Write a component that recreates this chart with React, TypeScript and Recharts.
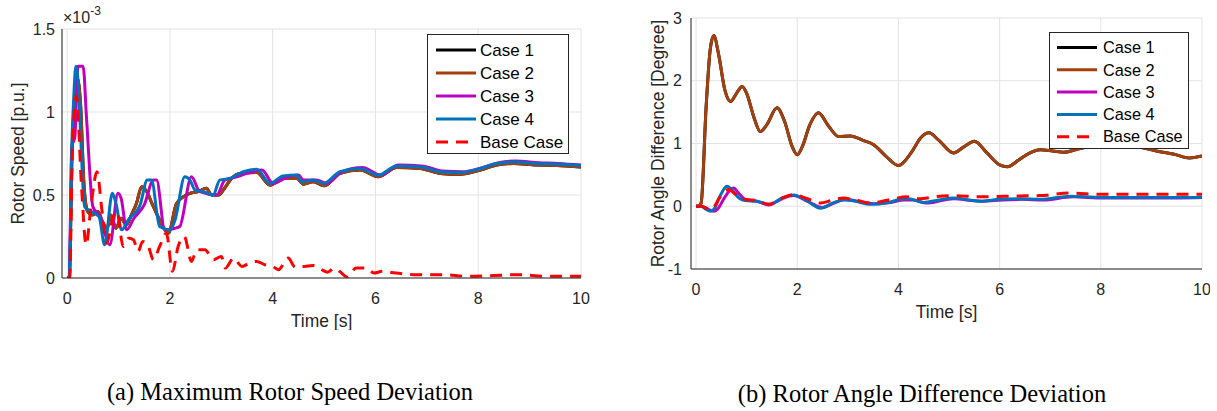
import React from 'react';
import { LineChart, Line, XAxis, YAxis, CartesianGrid, Legend, Customized } from 'recharts';

const timeTicks = [0, 2, 4, 6, 8, 10];
const speedTicks = [0, 0.5, 1, 1.5];
const angleTicks = [-1, 0, 1, 2, 3];

const seriesNames = ['Case 1', 'Case 2', 'Case 3', 'Case 4', 'Base Case'];
const seriesColors = ['#000000', '#A2400F', '#C000C0', '#0072BD', '#FF0000'];

// (a) maximum rotor speed deviation, in 1e-3 p.u.
const speedCase1T = [0, 0.04, 0.1, 0.15, 0.2, 0.26, 0.33, 0.4, 0.5, 0.6, 0.7, 0.78, 0.85, 0.95, 1.05, 1.15, 1.25, 1.35, 1.45, 1.55, 1.65, 1.8, 1.97, 2.13, 2.39, 2.55, 2.71, 2.81, 2.95, 3.04, 3.2, 3.36, 3.69, 3.95, 4.2, 4.47, 4.6, 4.79, 5.0, 5.31, 5.7, 6.06, 6.41, 6.87, 7.26, 7.65, 8.04, 8.36, 8.69, 9.14, 9.53, 10];
const speedCase1V = [0, 0, 0.8, 1.0, 1.2, 1.05, 0.55, 0.4, 0.38, 0.4, 0.33, 0.3, 0.38, 0.3, 0.36, 0.32, 0.38, 0.45, 0.55, 0.52, 0.45, 0.35, 0.27, 0.45, 0.51, 0.52, 0.54, 0.5, 0.5, 0.53, 0.6, 0.63, 0.635, 0.56, 0.6, 0.6, 0.565, 0.58, 0.555, 0.63, 0.65, 0.61, 0.665, 0.66, 0.63, 0.625, 0.65, 0.68, 0.69, 0.68, 0.678, 0.668];
const speedCase2T = speedCase1T;
const speedCase2V = [0, 0, 0.8, 1.0, 1.2, 1.05, 0.55, 0.4, 0.38, 0.4, 0.33, 0.3, 0.38, 0.3, 0.36, 0.32, 0.38, 0.45, 0.55, 0.52, 0.45, 0.35, 0.27, 0.45, 0.51, 0.52, 0.54, 0.5, 0.5, 0.53, 0.6, 0.63, 0.635, 0.56, 0.6, 0.6, 0.565, 0.58, 0.555, 0.63, 0.65, 0.61, 0.665, 0.66, 0.63, 0.625, 0.65, 0.68, 0.69, 0.68, 0.678, 0.668];
const speedCase3T = [0, 0.04, 0.09, 0.15, 0.21, 0.31, 0.38, 0.5, 0.64, 0.83, 0.99, 1.05, 1.16, 1.3, 1.5, 1.68, 1.74, 1.9, 2.1, 2.19, 2.42, 2.58, 2.91, 3.07, 3.3, 3.5, 3.79, 4.01, 4.3, 4.5, 4.6, 4.85, 5.05, 5.35, 5.75, 6.1, 6.45, 6.9, 7.3, 7.7, 8.08, 8.4, 8.72, 9.18, 9.56, 10];
const speedCase3V = [0, 0, 0.79, 0.85, 1.275, 1.275, 0.95, 0.43, 0.37, 0.2, 0.51, 0.48, 0.29, 0.36, 0.44, 0.59, 0.59, 0.29, 0.3, 0.31, 0.61, 0.52, 0.5, 0.59, 0.61, 0.63, 0.65, 0.57, 0.61, 0.62, 0.59, 0.59, 0.57, 0.64, 0.665, 0.62, 0.68, 0.675, 0.645, 0.64, 0.665, 0.695, 0.705, 0.695, 0.69, 0.68];
const speedCase4T = [0, 0.04, 0.09, 0.13, 0.17, 0.21, 0.25, 0.34, 0.47, 0.62, 0.73, 0.88, 0.95, 1.06, 1.19, 1.42, 1.56, 1.64, 1.8, 2.0, 2.1, 2.29, 2.39, 2.49, 2.65, 2.84, 2.97, 3.17, 3.43, 3.69, 3.95, 4.2, 4.47, 4.56, 4.79, 4.99, 5.31, 5.7, 6.06, 6.41, 6.87, 7.26, 7.65, 8.04, 8.36, 8.69, 9.14, 9.53, 10];
const speedCase4V = [0, 0, 0.79, 1.1, 1.275, 1.2, 0.95, 0.43, 0.4, 0.37, 0.2, 0.51, 0.45, 0.29, 0.35, 0.44, 0.59, 0.59, 0.31, 0.29, 0.35, 0.61, 0.59, 0.53, 0.52, 0.5, 0.59, 0.6, 0.64, 0.655, 0.57, 0.615, 0.62, 0.58, 0.59, 0.57, 0.64, 0.66, 0.62, 0.675, 0.67, 0.64, 0.635, 0.66, 0.69, 0.7, 0.69, 0.687, 0.677];
const speedBaseT = [0, 0.05, 0.1, 0.18, 0.28, 0.37, 0.47, 0.58, 0.68, 0.77, 0.9, 0.97, 1.09, 1.2, 1.29, 1.38, 1.47, 1.58, 1.68, 1.8, 1.93, 2.05, 2.16, 2.28, 2.42, 2.52, 2.68, 2.85, 3.0, 3.08, 3.24, 3.4, 3.55, 3.69, 3.85, 4.0, 4.11, 4.3, 4.44, 4.63, 4.79, 4.95, 5.07, 5.2, 5.3, 5.46, 5.62, 5.84, 5.97, 6.13, 6.39, 6.8, 7.3, 7.8, 8.3, 8.8, 9.3, 10];
const speedBaseV = [0, 0, 0.75, 1.1, 0.55, 0.2, 0.45, 0.64, 0.4, 0.21, 0.37, 0.4, 0.19, 0.24, 0.23, 0.16, 0.22, 0.19, 0.11, 0.19, 0.27, 0.04, 0.19, 0.25, 0.1, 0.17, 0.17, 0.11, 0.13, 0.06, 0.12, 0.07, 0.09, 0.1, 0.08, 0.07, 0.05, 0.12, 0.065, 0.07, 0.075, 0.05, 0.035, 0.06, 0.04, 0.005, 0.06, 0.06, 0.03, 0.04, 0.03, 0.02, 0.02, 0.01, 0.015, 0.02, 0.01, 0.01];

// (b) rotor angle difference deviation, in degrees
const angleCase1T = [0, 0.05, 0.1, 0.2, 0.28, 0.35, 0.45, 0.57, 0.68, 0.8, 0.91, 1.0, 1.15, 1.27, 1.4, 1.6, 1.75, 1.9, 2.0, 2.1, 2.25, 2.42, 2.6, 2.82, 3.05, 3.3, 3.51, 3.75, 4.0, 4.25, 4.45, 4.6, 4.8, 5.09, 5.3, 5.5, 5.75, 6.0, 6.15, 6.4, 6.6, 6.8, 7.05, 7.27, 7.5, 7.75, 8.1, 8.4, 8.7, 9.1, 9.45, 9.75, 10];
const angleCase1V = [0, 0, 0.05, 1.6, 2.5, 2.72, 2.4, 1.85, 1.67, 1.8, 1.91, 1.8, 1.4, 1.19, 1.3, 1.57, 1.35, 0.95, 0.82, 0.95, 1.3, 1.49, 1.3, 1.11, 1.12, 1.05, 0.98, 0.8, 0.65, 0.85, 1.1, 1.17, 1.05, 0.85, 0.95, 1.035, 0.85, 0.66, 0.63, 0.75, 0.85, 0.9, 0.88, 0.86, 0.9, 0.95, 1.0, 0.99, 0.955, 0.88, 0.83, 0.77, 0.8];
const angleCase2T = angleCase1T;
const angleCase2V = [0, 0, 0.05, 1.6, 2.5, 2.72, 2.4, 1.85, 1.67, 1.8, 1.91, 1.8, 1.4, 1.19, 1.3, 1.57, 1.35, 0.95, 0.82, 0.95, 1.3, 1.49, 1.3, 1.11, 1.12, 1.05, 0.98, 0.8, 0.65, 0.85, 1.1, 1.17, 1.05, 0.85, 0.95, 1.035, 0.85, 0.66, 0.63, 0.75, 0.85, 0.9, 0.88, 0.86, 0.9, 0.95, 1.0, 0.99, 0.955, 0.88, 0.83, 0.77, 0.8];
const angleCase3T = [0, 0.1, 0.2, 0.35, 0.45, 0.55, 0.74, 0.85, 0.97, 1.2, 1.44, 1.7, 1.93, 2.2, 2.5, 2.75, 2.95, 3.2, 3.5, 3.85, 4.1, 4.3, 4.55, 4.85, 5.1, 5.45, 5.65, 6.05, 6.45, 6.85, 7.45, 8.05, 9.05, 10];
const angleCase3V = [0, 0, -0.03, -0.08, -0.02, 0.12, 0.29, 0.2, 0.11, 0.08, 0.02, 0.12, 0.17, 0.08, -0.02, 0.06, 0.11, 0.08, 0.04, 0.06, 0.1, 0.1, 0.05, 0.09, 0.12, 0.09, 0.08, 0.1, 0.11, 0.1, 0.15, 0.13, 0.13, 0.14];
const angleCase4T = [0, 0.1, 0.2, 0.28, 0.36, 0.45, 0.61, 0.72, 0.85, 0.97, 1.2, 1.44, 1.7, 1.93, 2.2, 2.46, 2.7, 2.92, 3.15, 3.45, 3.8, 4.04, 4.2, 4.5, 4.8, 5.09, 5.4, 5.6, 6.0, 6.4, 6.8, 7.4, 8.0, 9.0, 10];
const angleCase4V = [0, 0, -0.05, -0.08, -0.04, 0.12, 0.32, 0.25, 0.13, 0.09, 0.08, 0.03, 0.13, 0.18, 0.08, -0.03, 0.05, 0.1, 0.08, 0.03, 0.06, 0.11, 0.12, 0.06, 0.1, 0.13, 0.1, 0.08, 0.11, 0.12, 0.11, 0.16, 0.14, 0.14, 0.14];
const angleBaseT = [0, 0.1, 0.2, 0.28, 0.35, 0.45, 0.55, 0.64, 0.75, 0.85, 0.97, 1.2, 1.44, 1.7, 1.93, 2.2, 2.46, 2.7, 2.9, 3.15, 3.45, 3.8, 4.17, 4.43, 4.7, 5.09, 5.6, 6.1, 6.8, 7.4, 8.0, 9.0, 10];
const angleBaseV = [0, 0, -0.03, -0.05, -0.02, 0.12, 0.23, 0.265, 0.21, 0.14, 0.11, 0.09, 0.03, 0.13, 0.185, 0.12, 0.05, 0.1, 0.13, 0.1, 0.05, 0.1, 0.15, 0.12, 0.15, 0.17, 0.15, 0.16, 0.17, 0.21, 0.19, 0.19, 0.19];

const toPoints = (t: number[], v: number[]) => t.map((x, i) => ({ t: x, v: v[i] }));

const speedSeries = [
  toPoints(speedCase1T, speedCase1V),
  toPoints(speedCase2T, speedCase2V),
  toPoints(speedCase3T, speedCase3V),
  toPoints(speedCase4T, speedCase4V),
  toPoints(speedBaseT, speedBaseV),
];
const angleSeries = [
  toPoints(angleCase1T, angleCase1V),
  toPoints(angleCase2T, angleCase2V),
  toPoints(angleCase3T, angleCase3V),
  toPoints(angleCase4T, angleCase4V),
  toPoints(angleBaseT, angleBaseV),
];

const axisColor = '#262626';
const sans = '"Liberation Sans", Arial, Helvetica, sans-serif';
const serif = '"Liberation Serif", "Times New Roman", serif';

const LegendBox = ({ width, height, rowTop, rowGap, lineX, textX, fontSize }: any) => (
  <div style={{ width, height, boxSizing: 'border-box', border: `1px solid ${axisColor}`, background: '#fff' }}>
    <svg width={width - 2} height={height - 2} style={{ display: 'block' }}>
      {seriesNames.map((name, i) => {
        const y = rowTop + i * rowGap;
        return (
          <g key={name}>
            <line x1={lineX} x2={lineX + 40} y1={y} y2={y} stroke={seriesColors[i]} strokeWidth={3}
              strokeDasharray={i === 4 ? '12 8' : undefined} />
            <text x={textX} y={y} dy="0.35em" fontSize={fontSize} fontFamily={sans} fill="#000">{name}</text>
          </g>
        );
      })}
    </svg>
  </div>
);

const Panel = ({ width, height, margin, yWidth, xHeight, yDomain, yTicks, yLabel, yLabelOffset, yTickMargin,
  series, curve, legend, extra }: any) => (
  <LineChart width={width} height={height} margin={margin}>
    <CartesianGrid stroke="#e3e3e3" strokeWidth={1} />
    {/* inward tick marks on all four sides, MATLAB style */}
    <XAxis xAxisId="bticks" orientation="bottom" type="number" domain={[-0.1, 10]} ticks={timeTicks} height={0}
      mirror axisLine={false} tick={false} tickSize={5} tickLine={{ stroke: axisColor }} />
    <XAxis dataKey="t" type="number" domain={[-0.1, 10]} ticks={timeTicks} allowDataOverflow
      height={xHeight} stroke={axisColor} tickLine={false} tickSize={0} tickMargin={15}
      tick={{ fill: axisColor, fontSize: 16, fontFamily: sans }}
      label={{ value: 'Time [s]', position: 'insideTop', offset: 37, fill: axisColor, fontSize: 17.5, fontFamily: sans }} />
    <XAxis xAxisId="top" orientation="top" type="number" domain={[-0.1, 10]} ticks={timeTicks} height={0}
      mirror stroke={axisColor} tick={false} tickSize={5} tickLine={{ stroke: axisColor }} />
    <YAxis yAxisId="lticks" orientation="left" type="number" domain={yDomain} ticks={yTicks} width={0}
      mirror axisLine={false} tick={false} tickSize={5} tickLine={{ stroke: axisColor }} />
    <YAxis type="number" domain={yDomain} ticks={yTicks} width={yWidth} allowDataOverflow
      stroke={axisColor} tickLine={false} tickSize={0} tickMargin={yTickMargin}
      tick={{ fill: axisColor, fontSize: 16, fontFamily: sans }}
      label={{ value: yLabel, angle: -90, position: 'insideLeft', offset: yLabelOffset,
        style: { textAnchor: 'middle', fill: axisColor, fontSize: 17.5, fontFamily: sans } }} />
    <YAxis yAxisId="right" orientation="right" type="number" domain={yDomain} ticks={yTicks} width={0}
      mirror stroke={axisColor} tick={false} tickSize={5} tickLine={{ stroke: axisColor }} />
    {series.map((pts: any[], i: number) => (
      <Line key={seriesNames[i]} data={pts} dataKey="v" name={seriesNames[i]} type={curve}
        stroke={seriesColors[i]} strokeWidth={3} dot={false} activeDot={false}
        strokeDasharray={i === 4 ? '12 8' : undefined} isAnimationActive={false} />
    ))}
    <Legend layout="horizontal" verticalAlign="middle" align="center"
      wrapperStyle={{ position: 'absolute', left: legend.left, top: legend.top, width: legend.width, height: legend.height }}
      content={() => <LegendBox {...legend} />} />
    {extra}
  </LineChart>
);

export default function App() {
  return (
    <div style={{ position: 'absolute', left: 0, top: 0, width: 1217, height: 411, background: '#fff' }}>
      <div style={{ position: 'absolute', left: 0, top: 0 }}>
        <Panel width={600} height={330} margin={{ top: 29, right: 19, left: 0, bottom: 0 }} yWidth={62} xHeight={52}
          yDomain={[0, 1.5]} yTicks={speedTicks} yLabel="Rotor Speed [p.u.]" yLabelOffset={18} yTickMargin={7}
          series={speedSeries} curve="monotone"
          legend={{ left: 427, top: 34, width: 142, height: 120, rowTop: 15, rowGap: 23, lineX: 8, textX: 52, fontSize: 17 }}
          extra={<Customized component={() => (
            <text x={63} y={23} fontSize={16} fontFamily={sans} fill={axisColor}>
              ×10<tspan dy={-8} fontSize={12}>-3</tspan>
            </text>
          )} />} />
      </div>
      <div style={{ position: 'absolute', left: 630, top: 0 }}>
        <Panel width={580} height={330} margin={{ top: 18, right: 8, left: 0, bottom: 0 }} yWidth={61} xHeight={61}
          yDomain={[-1, 3]} yTicks={angleTicks} yLabel="Rotor Angle Difference [Degree]" yLabelOffset={28} yTickMargin={9}
          series={angleSeries} curve="monotone"
          legend={{ left: 419, top: 32, width: 140, height: 117, rowTop: 14.5, rowGap: 22.3, lineX: 7, textX: 53, fontSize: 16.3 }} />
      </div>
      <div style={{ position: 'absolute', left: 90, top: 378, width: 400, textAlign: 'center', fontFamily: serif, fontSize: 24.5, lineHeight: '28px', color: '#000' }}>
        (a) Maximum Rotor Speed Deviation
      </div>
      <div style={{ position: 'absolute', left: 722, top: 380, width: 400, textAlign: 'center', fontFamily: serif, fontSize: 24.5, lineHeight: '28px', color: '#000' }}>
        (b) Rotor Angle Difference Deviation
      </div>
    </div>
  );
}
